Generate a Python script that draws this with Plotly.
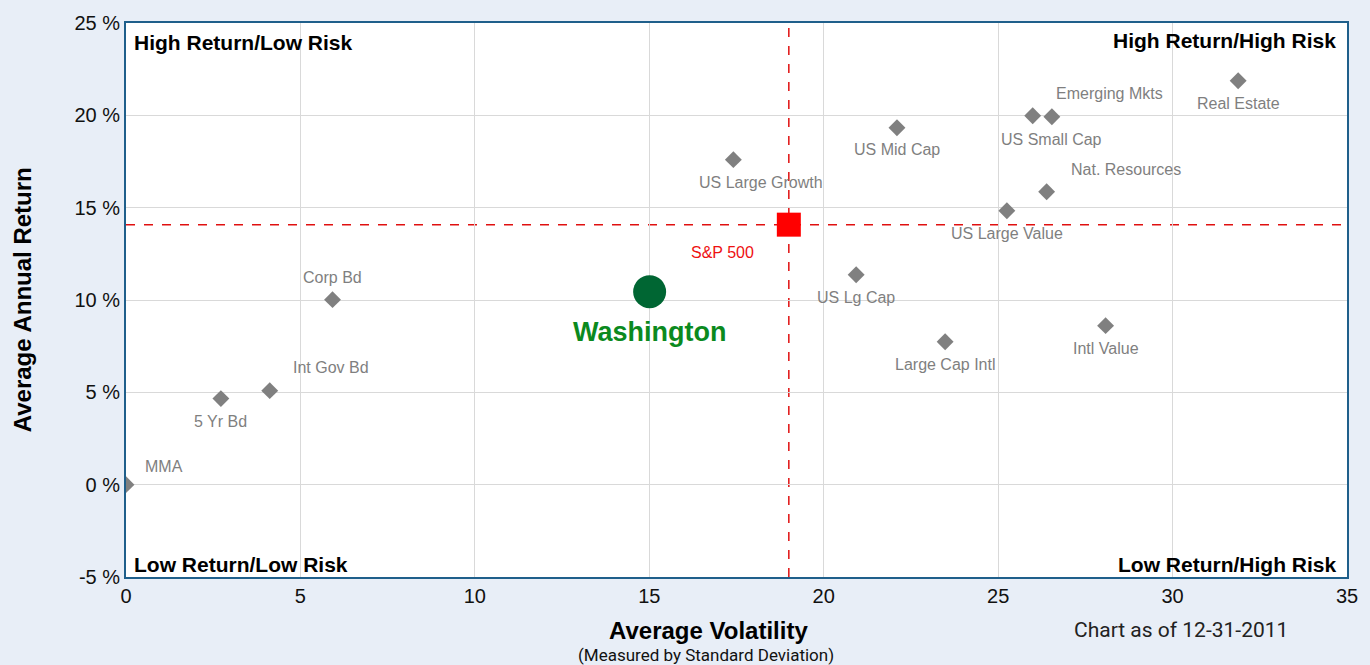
import plotly.graph_objects as go

# ---- data ----
asset_names = ["MMA", "5 Yr Bd", "Int Gov Bd", "Corp Bd", "US Large Growth", "US Lg Cap",
               "US Mid Cap", "Large Cap Intl", "US Large Value", "Nat. Resources",
               "US Small Cap", "Emerging Mkts", "Intl Value", "Real Estate"]
asset_volatility = [0.0, 2.72, 4.12, 5.92, 17.41, 20.93, 22.1, 23.48, 25.25, 26.39, 25.99, 26.54, 28.08, 31.88]
asset_return = [0.0, 4.66, 5.09, 10.02, 17.6, 11.37, 19.33, 7.74, 14.83, 15.86, 19.98, 19.92, 8.61, 21.87]
# label offsets in pixels (style)
label_dx = [38, 0, 61, 0, 28, 0, 0, 0, 0, 79, 19, 58, 0, 0]
label_dy = [18, -23, 23, 22, -23, -23, -22, -23, -23, 22, -24, 23, -23, -23]

sp500_name = "S&P 500"
sp500_volatility = 19.0
sp500_return = 14.08

fund_name = "Washington"
fund_volatility = 15.01
fund_return = 10.45

x_range = [0, 35]
y_range = [-5, 25]
x_ticks = [0, 5, 10, 15, 20, 25, 30, 35]
x_tick_labels = ["0", "5", "10", "15", "20", "25", "30", "35"]
y_ticks = [-5, 0, 5, 10, 15, 20, 25]
y_tick_labels = ["-5 %", "0 %", "5 %", "10 %", "15 %", "20 %", "25 %"]

FONT = "Liberation Sans, Arial, sans-serif"

fig = go.Figure()

fig.add_trace(go.Scatter(
    x=asset_volatility, y=asset_return, mode="markers",
    marker=dict(symbol="diamond", size=13, color="#808080"),
    hoverinfo="text", text=asset_names, showlegend=False))

fig.add_trace(go.Scatter(
    x=[sp500_volatility], y=[sp500_return], mode="markers",
    marker=dict(symbol="square", size=24, color="#ff0000"),
    showlegend=False))

fig.add_trace(go.Scatter(
    x=[fund_volatility], y=[fund_return], mode="markers",
    marker=dict(symbol="circle", size=33, color="#006633"),
    showlegend=False))

annotations = []
for n, xv, yv, dx, dy in zip(asset_names, asset_volatility, asset_return, label_dx, label_dy):
    annotations.append(dict(x=xv, y=yv, xref="x", yref="y", text=n, showarrow=False,
                            xshift=dx, yshift=dy, font=dict(family=FONT, size=16, color="#7f7f7f")))
annotations.append(dict(x=sp500_volatility, y=sp500_return, xref="x", yref="y", text=sp500_name,
                        showarrow=False, xshift=-66, yshift=-28,
                        font=dict(family=FONT, size=16, color="#ee1111")))
annotations.append(dict(x=fund_volatility, y=fund_return, xref="x", yref="y", text="<b>" + fund_name + "</b>",
                        showarrow=False, xshift=0, yshift=-40,
                        font=dict(family=FONT, size=27, color="#0b8a1e")))

# quadrant labels
qfont = dict(family=FONT, size=21, color="#000000")
annotations += [
    dict(x=0.005, y=0.99, xref="paper", yref="paper", xanchor="left", yanchor="top",
         text="<b>High Return/Low Risk</b>", showarrow=False, font=qfont),
    dict(x=0.993, y=0.992, xref="paper", yref="paper", xanchor="right", yanchor="top",
         text="<b>High Return/High Risk</b>", showarrow=False, font=qfont),
    dict(x=0.005, y=-0.001, xref="paper", yref="paper", xanchor="left", yanchor="bottom",
         text="<b>Low Return/Low Risk</b>", showarrow=False, font=qfont),
    dict(x=0.993, y=-0.001, xref="paper", yref="paper", xanchor="right", yanchor="bottom",
         text="<b>Low Return/High Risk</b>", showarrow=False, font=qfont),
]
# axis titles
annotations += [
    dict(x=0.477, y=-0.069, xref="paper", yref="paper", xanchor="center", yanchor="top",
         text="<b>Average Volatility</b>", showarrow=False,
         font=dict(family=FONT, size=24, color="#000000")),
    dict(x=0.475, y=-0.119, xref="paper", yref="paper", xanchor="center", yanchor="top",
         text="(Measured by Standard Deviation)", showarrow=False,
         font=dict(family="Roboto, sans-serif", size=17, color="#111111")),
    dict(x=0.864, y=-0.071, xref="paper", yref="paper", xanchor="center", yanchor="top",
         text="Chart as of 12-31-2011", showarrow=False,
         font=dict(family="Roboto, sans-serif", size=21, color="#222222")),
    dict(x=-0.085, y=0.5, xref="paper", yref="paper", xanchor="center", yanchor="middle",
         textangle=-90, text="<b>Average Annual Return</b>", showarrow=False,
         font=dict(family=FONT, size=24, color="#000000")),
]

shapes = [
    dict(type="line", xref="x", yref="paper", x0=sp500_volatility, x1=sp500_volatility, y0=0, y1=1,
         line=dict(color="#e01010", width=1.5, dash="dash"), layer="below"),
    dict(type="line", xref="paper", yref="y", x0=0, x1=1, y0=sp500_return, y1=sp500_return,
         line=dict(color="#e01010", width=1.5, dash="dash"), layer="below"),
]

fig.update_layout(
    width=1370, height=665,
    paper_bgcolor="#e8eef7", plot_bgcolor="#ffffff",
    margin=dict(l=126, r=12, t=23, b=88),
    annotations=annotations, shapes=shapes,
    font=dict(family=FONT, size=18, color="#111111"),
    showlegend=False,
)
fig.update_xaxes(range=x_range, tickvals=x_ticks, ticktext=x_tick_labels, showgrid=True, gridcolor="#d9d9d9",
                 zeroline=False, showline=True, linecolor="#1f5f8b", linewidth=2, mirror=True,
                 ticks="", ticklabeloverflow="allow",
                 tickfont=dict(family=FONT, size=20, color="#111111"))
fig.update_yaxes(range=y_range, tickvals=y_ticks, ticktext=y_tick_labels, showgrid=True, gridcolor="#d9d9d9",
                 zeroline=False, showline=True, linecolor="#1f5f8b", linewidth=2, mirror=True,
                 ticks="", tickfont=dict(family=FONT, size=20, color="#111111"))

fig.write_html("out.html", config={"displayModeBar": False},
               post_script="document.body.style.margin='0';document.body.style.overflow='hidden';")
